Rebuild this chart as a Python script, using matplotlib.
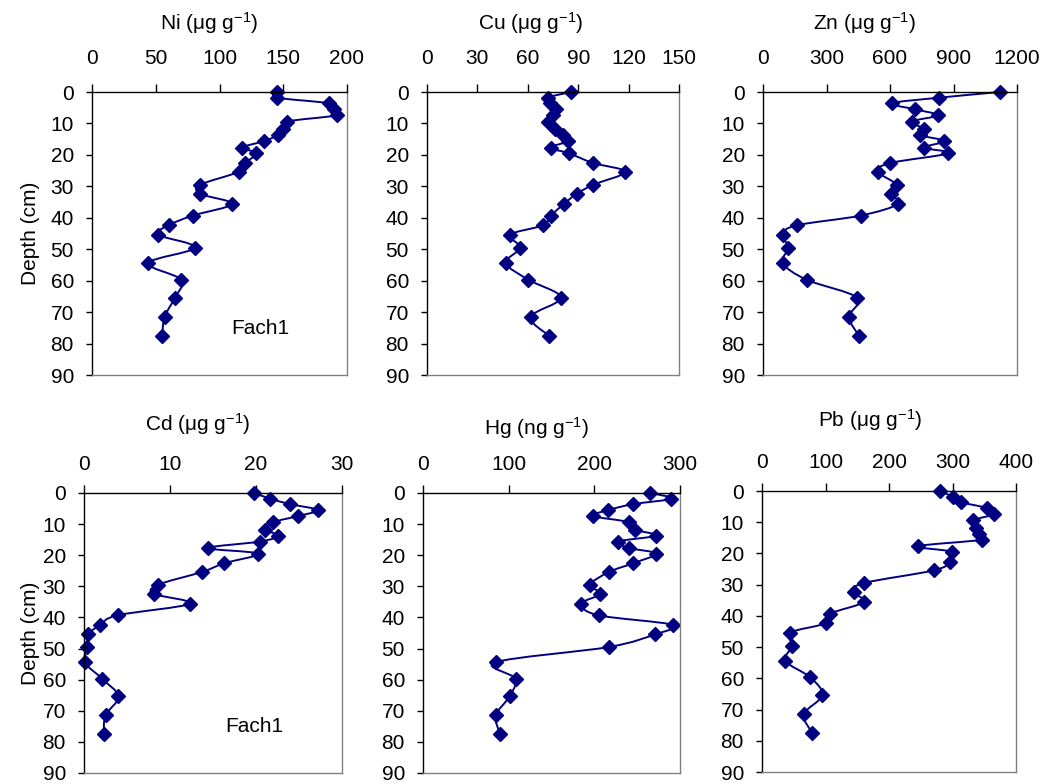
import numpy as np
import matplotlib
matplotlib.use("Agg")
import matplotlib.pyplot as plt
from matplotlib.path import Path
from matplotlib.patches import PathPatch

plt.rcParams['font.family'] = ['Liberation Sans', 'DejaVu Sans']
plt.rcParams['mathtext.fontset'] = 'custom'
plt.rcParams['mathtext.rm'] = 'Liberation Sans'
plt.rcParams['mathtext.it'] = 'Liberation Sans'

# depth of each core slice (cm), shared by all six profiles
depth = [0, 1.8, 3.6, 5.5, 7.4, 9.4, 11.8, 13.7, 15.6, 17.7, 19.5, 22.6, 25.4,
         29.5, 32.4, 35.6, 39.3, 42.4, 45.4, 49.5, 54.4, 59.7, 65.4, 71.5, 77.5]

ni = [145, 145, 186, 190, 192, 153, 150, 146, 135, 118, 129, 120, 115,
      85, 85, 110, 79, 60, 52, 81, 44, 70, 65, 57, 55]
cu = [85.7, 72, 73, 77, 75, 72, 76, 81, 84, 73.6, 84.5, 99, 118,
      99, 89, 81.5, 73.8, 69, 49.4, 55.4, 47, 60.3, 79.8, 61.7, 72.6]
zn = [1120, 833, 608, 718, 825, 705, 762, 742, 856, 762, 875, 600, 545,
      632, 603, 639, 462, 159, 93, 120, 93, 206, 445, 406, 453]
cd = [19.8, 21.6, 24, 27.2, 24.9, 22, 21.1, 22.6, 20.5, 14.4, 20.2, 16.3, 13.7,
      8.6, 8.1, 12.3, 3.9, 1.9, 0.5, 0.4, 0.1, 2.1, 4.0, 2.5, 2.3]
hg = [265, 290, 245, 216, 199, 241, 248, 272, 228, 241, 272, 245, 217,
      195, 207, 185, 205, 292, 271, 217, 85, 108, 101, 85, 90]
pb = [280, 300, 314, 355, 365, 333, 337, 342, 346, 245, 299, 296, 271,
      160, 145, 160, 107, 100, 44, 48, 37, 76, 95, 66, 79]

titles = ["Ni (μg g$^{-1}$)", "Cu (μg g$^{-1}$)", "Zn (μg g$^{-1}$)",
          "Cd (μg g$^{-1}$)", "Hg (ng g$^{-1}$)", "Pb (μg g$^{-1}$)"]
xmax = [200, 150, 1200, 30, 300, 400]
xstep = [50, 30, 300, 10, 100, 100]
series = [ni, cu, zn, cd, hg, pb]

W, H = 1045, 784
navy = '#000080'

# plot areas in pixels: left, right, top, bottom
boxes = [(92, 347, 92, 375), (427, 679, 92, 375), (763, 1017, 92, 375),
         (84, 342, 493, 773), (423, 680, 493, 773), (762, 1016, 491, 772)]
title_pos = [(209, 23), (531, 23), (865, 23), (198, 424), (537, 428), (870, 420)]


def smooth_path(x, y):
    # Excel-style smoothed line (Catmull-Rom as cubic Bezier)
    pts = np.column_stack([x, y]).astype(float)
    verts = [pts[0]]
    codes = [Path.MOVETO]
    n = len(pts)
    for i in range(n - 1):
        p0 = pts[i - 1] if i > 0 else pts[i]
        p1, p2 = pts[i], pts[i + 1]
        p3 = pts[i + 2] if i + 2 < n else pts[i + 1]
        verts += [p1 + (p2 - p0) / 6, p2 - (p3 - p1) / 6, p2]
        codes += [Path.CURVE4] * 3
    return Path(verts, codes)


fig = plt.figure(figsize=(W / 100, H / 100), dpi=100)

for k in range(6):
    l, r, t, b = boxes[k]
    ax = fig.add_axes([l / W, 1 - b / H, (r - l) / W, (b - t) / H])
    vals = series[k]
    ax.add_patch(PathPatch(smooth_path(vals, depth), fill=False, ec=navy,
                           lw=1.4, clip_on=False))
    ax.plot(vals, depth, ls='none', marker='D', ms=7.5, color=navy, clip_on=False)

    ax.set_xlim(0, xmax[k])
    ax.set_ylim(90, 0)
    ax.set_xticks(np.arange(0, xmax[k] + 1, xstep[k]))
    ax.set_yticks(np.arange(0, 91, 10))
    ax.xaxis.tick_top()
    ax.tick_params(axis='x', direction='out', length=6, width=1,
                   pad=11.5 if k < 3 else 8, labelsize=15)
    ax.tick_params(axis='y', direction='out', length=4, width=1, pad=9,
                   labelsize=15)
    for s in ['top', 'left']:
        ax.spines[s].set_color('black')
        ax.spines[s].set_linewidth(1)
    for s in ['right', 'bottom']:
        ax.spines[s].set_color('#808080')
        ax.spines[s].set_linewidth(1)

    tx, ty = title_pos[k]
    fig.text(tx / W, 1 - ty / H, titles[k], ha='center', va='center', fontsize=15)

    if k in (0, 3):
        fig.text(30 / W, 1 - ((t + b) / 2) / H, "Depth (cm)", rotation=90,
                 ha='center', va='center', fontsize=15)
        ax.text(0.66, 0.165, "Fach1", transform=ax.transAxes,
                ha='center', va='center', fontsize=15)

fig.savefig("out.png", dpi=100)
